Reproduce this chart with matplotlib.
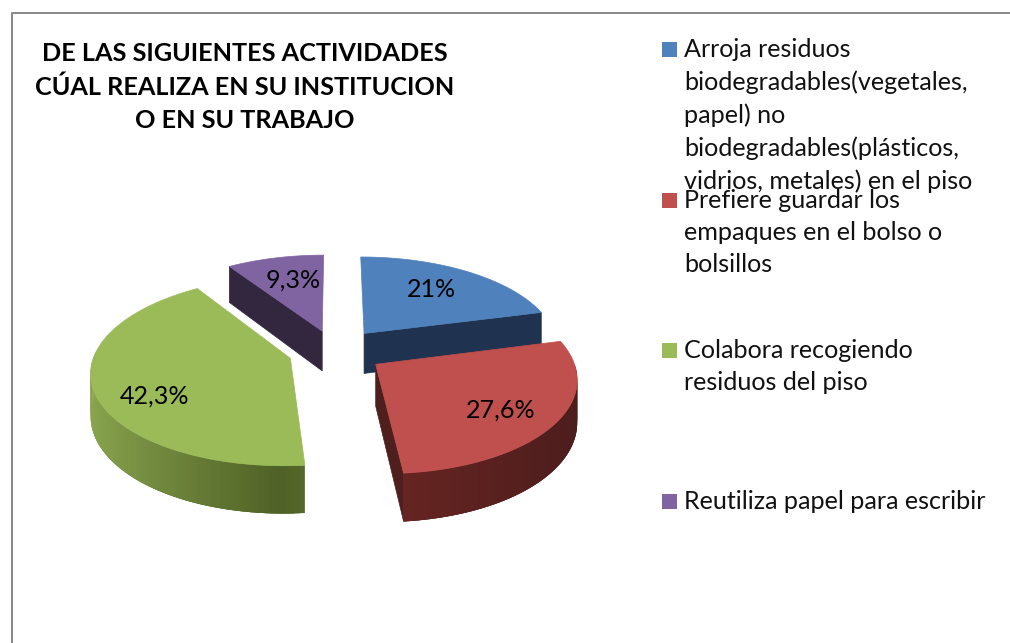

# Imports

import matplotlib
matplotlib.use('Agg')
import matplotlib.pyplot as plt
from matplotlib.patches import Polygon
import numpy

# Data -----------------------------------------------------------------------

title = 'DE LAS SIGUIENTES ACTIVIDADES\nCÚAL REALIZA EN SU INSTITUCION\nO EN SU TRABAJO'

categories = [
    'Arroja residuos\nbiodegradables(vegetales,\npapel) no\nbiodegradables(plásticos,\nvidrios, metales) en el piso',
    'Prefiere guardar los\nempaques en el bolso o\nbolsillos',
    'Colabora recogiendo\nresiduos del piso',
    'Reutiliza papel para escribir',
]
values = [21, 27.6, 42.3, 9.3]
value_labels = ['21%', '27,6%', '42,3%', '9,3%']

# Colours and layout ---------------------------------------------------------

top_colors = ['#4f81bd', '#c0504d', '#9bbb59', '#8064a2']
wall_near = ['#1f3350', '#682522', '#4f6126', '#33263f']   # colour where the arc meets the cut edge
wall_far = ['#1f3350', '#4a1d1c', '#8ca850', '#33263f']    # colour at the outer side of the pie
edge_wall = ['#1f3350', '#4f1f1e', '#4f6126', '#33263f']

cx, cy = 335, 351
rx, ry = 195, 91
persp = 0.133
depth = 41
explode = [0.25, 0.25, 0.24, 0.235]
label_radius = [0.55, 0.71, 0.70, 0.60]
label_dx = [8, 0, 0, 0]
label_dy = [-8, 5, 15, -5]

font = 'Lato'
legend_x = 684
legend_top = [38, 189, 339, 490]
legend_size = 18.1

# Projection of the pie plane onto the picture -------------------------------

def project(X, Y, drop=0):
    s = 1 / (1 - persp * Y)
    return cx + rx * X * s, cy + ry * Y * s + drop * s

def point(ax0, ay0, angle, r=1.0):
    return ax0 + r * numpy.sin(angle), ay0 - r * numpy.cos(angle)

def wall(ax, p, q, color, z, line=0.5):
    x1, y1 = project(*p)
    x2, y2 = project(*q)
    x3, y3 = project(*q, depth)
    x4, y4 = project(*p, depth)
    ax.add_patch(Polygon([(x1, y1), (x2, y2), (x3, y3), (x4, y4)], closed=True,
                         facecolor=color, edgecolor=color if line else 'none', lw=line, zorder=z))

# Figure ---------------------------------------------------------------------

fig = plt.figure(figsize=(10.1, 6.43), dpi=100)
ax = fig.add_axes([0, 0, 1, 1])
ax.set_xlim(0, 1010)
ax.set_ylim(643, 0)
ax.axis('off')

# chart border, it runs off the picture on the right and at the bottom
ax.plot([1010, 11.5, 11.5], [12.5, 12.5, 643], color='#868686', lw=1.4, zorder=1)

fractions = numpy.array(values) / sum(values)
edges = numpy.concatenate([[0], numpy.cumsum(fractions)]) * 2 * numpy.pi

# slices at the back first
order = [3, 0, 2, 1]
for n, i in enumerate(order):
    a0, a1 = edges[i], edges[i + 1]
    mid = (a0 + a1) / 2
    ox, oy = point(0, 0, mid, explode[i])
    z = 2 + n
    angles = numpy.linspace(a0, a1, 120)
    rim = [point(ox, oy, a) for a in angles]

    # cut edges that face the viewer
    if numpy.sin(a0) < -0.01:
        wall(ax, (ox, oy), point(ox, oy, a0), edge_wall[i], z)
    if numpy.sin(a1) > 0.01:
        wall(ax, (ox, oy), point(ox, oy, a1), edge_wall[i], z)

    # outer wall, strips overlap the next one so no seams show in the shading
    near = matplotlib.colors.to_rgb(wall_near[i])
    far = matplotlib.colors.to_rgb(wall_far[i])
    for k in range(len(angles) - 1):
        if numpy.cos(angles[k]) < 0.02:
            t = abs(numpy.sin(angles[k]))
            color = tuple(numpy.array(near) * (1 - t) + numpy.array(far) * t)
            wall(ax, rim[k], rim[min(k + 3, len(rim) - 1)], color, z, line=0)

    # top face
    face = [project(ox, oy)] + [project(*p) for p in rim]
    ax.add_patch(Polygon(face, closed=True, facecolor=top_colors[i], edgecolor=top_colors[i],
                         lw=0.5, zorder=z))

    lx, ly = project(*point(ox, oy, mid, label_radius[i]))
    ax.text(lx + label_dx[i], ly + label_dy[i], value_labels[i], family=font, fontsize=legend_size,
            color='black', ha='center', va='center', zorder=10)

# Title ----------------------------------------------------------------------

ax.text(245, 87, title, family=font, fontsize=18.2, fontweight='bold', color='black',
        ha='center', va='center', linespacing=1.55, zorder=10)

# Legend ---------------------------------------------------------------------

for i in range(len(categories)):
    y0 = legend_top[i]
    ax.add_patch(Polygon([(662, y0 + 4), (677, y0 + 4), (677, y0 + 19), (662, y0 + 19)], closed=True,
                         facecolor=top_colors[i], edgecolor='none', zorder=10))
    ax.text(legend_x, y0, categories[i], family=font, fontsize=legend_size, color='#111111',
            ha='left', va='top', linespacing=1.48, zorder=11)

fig.savefig('out.png', dpi=100)
